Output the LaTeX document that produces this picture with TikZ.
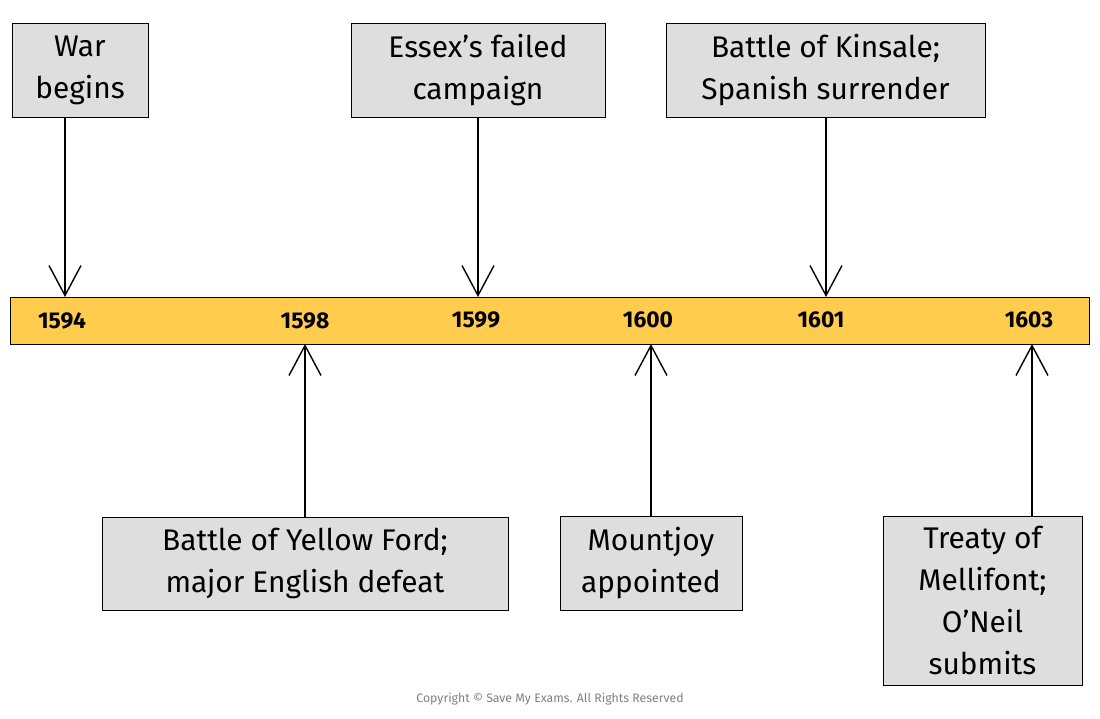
\documentclass[tikz,border=0pt]{standalone}
\usepackage{fontspec}
\setmainfont{Fira Sans}
\usetikzlibrary{arrows.meta}
\definecolor{barfill}{HTML}{FFCC4D}
\definecolor{boxfill}{HTML}{DEDEDE}
\begin{document}
\begin{tikzpicture}[x=0.02cm, y=-0.02cm, >={Straight Barb[length=0.6cm,width=0.64cm]},
    evento/.style={draw, fill=boxfill, align=center, inner sep=0pt, font=\fontsize{17}{24}\selectfont},
    ano/.style={font=\bfseries\fontsize{13}{15}\selectfont},
    seta/.style={->, thick}]

    % Margens
    \useasboundingbox (0,0) rectangle (1100,718);

    % Barra do tempo
    \node[draw, fill=barfill, minimum width=1079*0.02cm, minimum height=47*0.02cm, inner sep=0pt] (barra) at (549.5,320.5) {};

    % Anos
    \node[ano] (a1594) at (62,321) {1594};
    \node[ano] (a1598) at (305,321) {1598};
    \node[ano] (a1599) at (476,320) {1599};
    \node[ano] (a1600) at (648,320) {1600};
    \node[ano] (a1601) at (821,320) {1601};
    \node[ano] (a1603) at (1029,320) {1603};

    % Caixas de cima
    \node[evento, minimum width=136*0.02cm, minimum height=94*0.02cm] (guerra) at (80,70) {War\\begins};
    \node[evento, minimum width=254*0.02cm, minimum height=94*0.02cm] (essex) at (478,70) {Essex’s failed\\campaign};
    \node[evento, minimum width=319*0.02cm, minimum height=94*0.02cm] (kinsale) at (825.5,70) {Battle of Kinsale;\\Spanish surrender};

    % Caixas de baixo
    \node[evento, minimum width=406*0.02cm, minimum height=93*0.02cm] (yellow) at (305,563.5) {Battle of Yellow Ford;\\major English defeat};
    \node[evento, minimum width=182*0.02cm, minimum height=94*0.02cm] (mountjoy) at (651,563) {Mountjoy\\appointed};
    \node[evento, minimum width=199*0.02cm, minimum height=169*0.02cm] (tratado) at (982.5,600.5) {Treaty of\\Mellifont;\\O’Neil\\submits};

    % Setas
    \coordinate (p1594) at (65,297);
    \coordinate (p1598) at (305,344);
    \coordinate (p1599) at (478,297);
    \coordinate (p1600) at (651,344);
    \coordinate (p1601) at (826,297);
    \coordinate (p1603) at (1032,344);
    \draw[seta] (guerra.south -| p1594) -- (p1594);
    \draw[seta] (essex.south) -- (p1599);
    \draw[seta] (kinsale.south -| p1601) -- (p1601);
    \draw[seta] (yellow.north) -- (p1598);
    \draw[seta] (mountjoy.north) -- (p1600);
    \draw[seta] (tratado.north -| p1603) -- (p1603);

    % Rodapé
    \node[gray, font=\fontsize{7}{8}\selectfont] (rodape) at (550,699) {Copyright © Save My Exams. All Rights Reserved};

\end{tikzpicture}
\end{document}
